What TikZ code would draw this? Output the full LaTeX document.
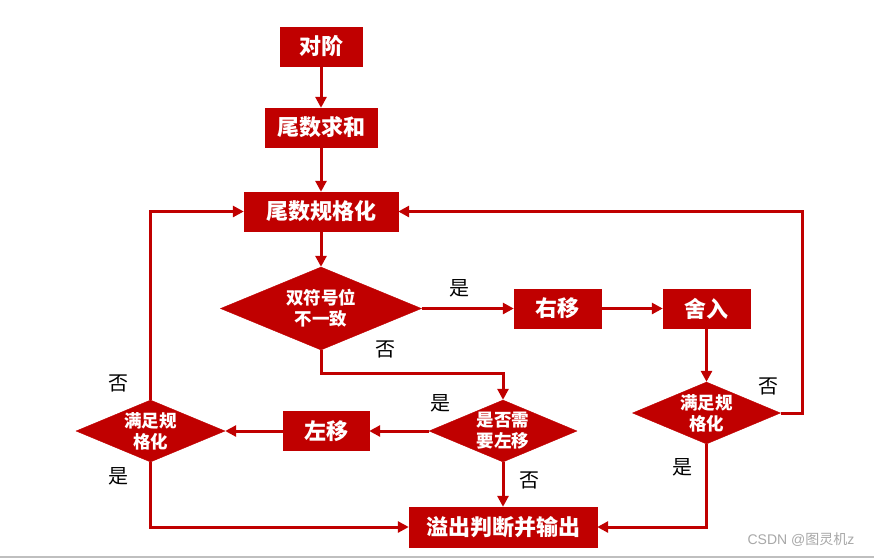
\documentclass[tikz,border=0pt]{standalone}
\usepackage{fontspec}
\newfontfamily\cjk{Noto Sans CJK SC}
\setmainfont{Liberation Sans}
\usetikzlibrary{shapes.geometric,arrows.meta}
\definecolor{fcred}{HTML}{C00000}
\definecolor{wmgray}{HTML}{A8A8A8}
\tikzset{
  boxnode/.style={fill=fcred, draw=fcred, inner sep=0pt, text=white,
    font=\cjk\bfseries\fontsize{22}{24}\selectfont, minimum height=39pt},
  dianode/.style={diamond, fill=fcred, draw=fcred, inner sep=0pt},
  diatext/.style={text=white, align=center, inner sep=0pt,
    font=\cjk\bfseries\fontsize{17.5}{21}\selectfont},
  lab/.style={text=black, inner sep=0pt, font=\cjk\fontsize{20}{22}\selectfont},
  conn/.style={draw=fcred, line width=3pt,
    -{Triangle[length=11pt,width=11pt]}},
}
\begin{document}
\begin{tikzpicture}[x=1pt,y=-1pt]
\useasboundingbox (0,0) rectangle (874,558);
\fill[white] (0,0) rectangle (874,558);
% boxes
\node[boxnode, minimum width=82pt] (dj) at (321,46.5) {对阶};
\node[boxnode, minimum width=112pt] (wsqh) at (321,127.5) {尾数求和};
\node[boxnode, minimum width=154pt] (wsgg) at (321,211.5) {尾数规格化};
\node[boxnode, minimum width=87pt] (ry) at (557.5,308.5) {右移};
\node[boxnode, minimum width=87pt] (sr) at (706.5,308.5) {舍入};
\node[boxnode, minimum width=86pt] (zy) at (326,431) {左移};
\node[boxnode, minimum width=188pt, minimum height=40pt] (yc) at (503,527) {溢出判断并输出};
% diamonds
\node[dianode, minimum width=201pt, minimum height=83pt] (d1) at (321,308.5) {};
\node[diatext] (d1t) at (d1) {双符号位\\不一致};
\node[dianode, minimum width=148pt, minimum height=62pt] (d2) at (503,431) {};
\node[diatext] (d2t) at (d2) {是否需\\要左移};
\node[dianode, minimum width=149pt, minimum height=62pt] (d3) at (150.5,431) {};
\node[diatext] (d3t) at (d3) {满足规\\格化};
\node[dianode, minimum width=148pt, minimum height=62pt] (d4) at (706.5,413) {};
\node[diatext] (d4t) at (d4) {满足规\\格化};
% corner coordinates
\coordinate (c1) at (321,373);
\coordinate (c2) at (503,373);
\coordinate (c3) at (150.5,211.5);
\coordinate (c4) at (150.5,527);
\coordinate (c5) at (802,413);
\coordinate (c6) at (802,211.5);
\coordinate (c7) at (706.5,527);
% connectors
\draw[conn] (dj) -- (wsqh);
\draw[conn] (wsqh) -- (wsgg);
\draw[conn] (wsgg) -- (d1);
\draw[conn] (d1.east) -- (ry.west);
\draw[conn] (ry) -- (sr);
\draw[conn] (sr.south) -- (d4.north);
\draw[conn] (d1.south) -- (c1) -- (c2) -- (d2.north);
\draw[conn] (d2.west) -- (zy.east);
\draw[conn] (zy.west) -- (d3.east);
\draw[conn] (d2.south) -- (yc.north);
\draw[conn] (d3.north) -- (c3) -- (wsgg.west);
\draw[conn] (d3.south) -- (c4) -- (yc.west);
\draw[conn] (d4.east) -- (c5) -- (c6) -- (wsgg.east);
\draw[conn] (d4.south) -- (c7) -- (yc.east);
% labels
\node[lab] (l1) at (459,288) {是};
\node[lab] (l2) at (385,349) {否};
\node[lab] (l3) at (440,403) {是};
\node[lab] (l4) at (529,480) {否};
\node[lab] (l5) at (118,383) {否};
\node[lab] (l6) at (118,476) {是};
\node[lab] (l7) at (768,386) {否};
\node[lab] (l8) at (682,467) {是};
% watermark and screen edge
\node[text=wmgray, inner sep=0pt, font=\fontsize{14}{16}\selectfont] (wm) at (801,540) {CSDN @{\cjk 图灵机}z};
\draw[draw=black!25, line width=1.5pt] (0,557) -- (874,557);
\end{tikzpicture}
\end{document}
